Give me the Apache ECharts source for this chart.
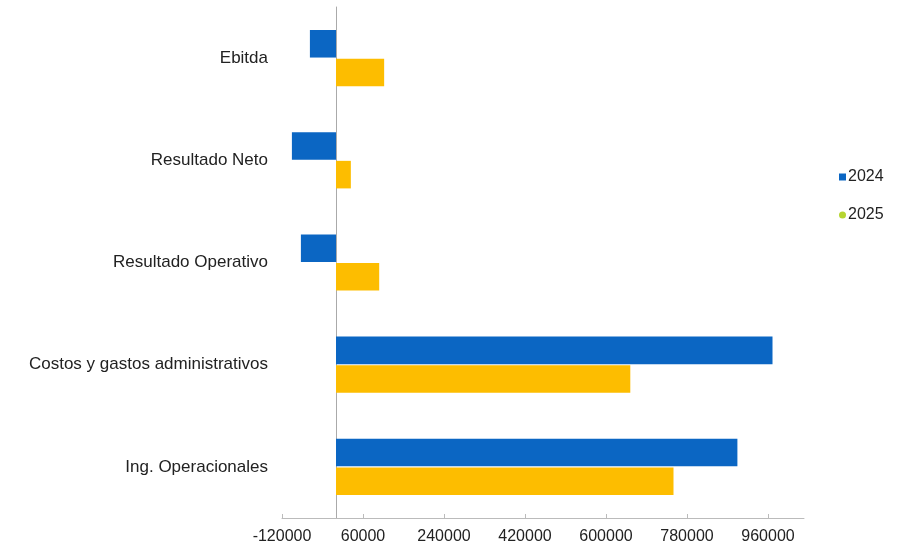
<!DOCTYPE html>
<html>
<head>
<meta charset="utf-8">
<script src="https://cdn.jsdelivr.net/npm/echarts@6/dist/echarts.min.js"></script>
<style>
  html, body { margin: 0; padding: 0; background: #fff; }
  #chart { width: 899px; height: 546px; }
</style>
</head>
<body>
<div id="chart"></div>
<script>
// Data (bottom to top on the chart)
const categories = [
  "Ing. Operacionales",
  "Costos y gastos administrativos",
  "Resultado Operativo",
  "Resultado Neto",
  "Ebitda",
];
const values2024 = [892000, 970000, -78000, -98000, -58000];
const values2025 = [750000, 654000, 96000, 33000, 107000];
const seriesNames = ["2024", "2025"];

const chart = echarts.init(document.getElementById("chart"));

const option = {
  animation: false,
  textStyle: { fontFamily: "Liberation Sans, Arial, sans-serif" },
  legend: {
    orient: "vertical",
    left: 834,
    top: 164,
    itemGap: 22,
    itemWidth: 7,
    itemHeight: 7,
    textStyle: { fontSize: 16, color: "#222", padding: [0, 0, 0, -3] },
    data: [
      { name: seriesNames[0], icon: "rect" },
      { name: seriesNames[1], icon: "circle", itemStyle: { color: "#b6d531" } },
    ],
  },
  grid: {
    left: 282,
    right: 95,
    top: 7,
    bottom: 28,
  },
  xAxis: {
    type: "value",
    min: -120000,
    max: 1040000,
    interval: 180000,
    splitLine: { show: false },
    axisLine: { show: true, onZero: false, lineStyle: { color: "#bbb" } },
    axisTick: { show: true, inside: true, length: 4, lineStyle: { color: "#bbb" } },
    axisLabel: {
      color: "#222",
      fontSize: 16,
      margin: 11,
      showMaxLabel: false,
      formatter: (v) => String(v),
    },
  },
  yAxis: {
    type: "category",
    data: categories,
    axisLine: { show: true, onZero: true, lineStyle: { color: "#aaa" } },
    axisTick: { show: false },
    axisLabel: { color: "#222", fontSize: 17, margin: 14 },
  },
  series: [
    {
      name: seriesNames[0],
      type: "bar",
      data: values2024,
      itemStyle: { color: "#0b66c3" },
      barGap: "4%",
      barCategoryGap: "45%",
    },
    {
      name: seriesNames[1],
      type: "bar",
      data: values2025,
      itemStyle: { color: "#fdbd00" },
      barGap: "4%",
      barCategoryGap: "45%",
    },
  ],
};

chart.setOption(option);
</script>
</body>
</html>
